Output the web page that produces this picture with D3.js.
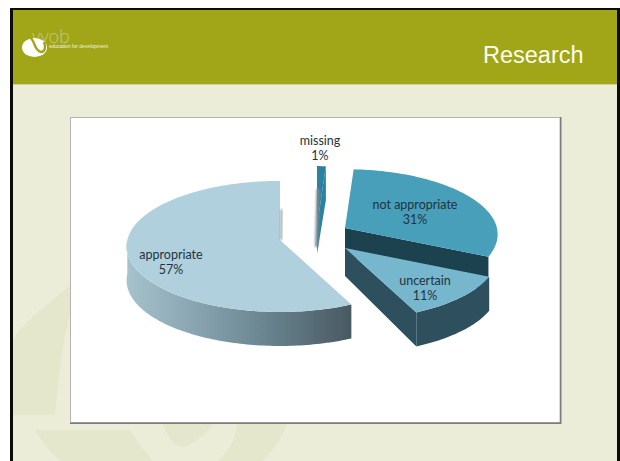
<!DOCTYPE html>
<html>
<head>
<meta charset="utf-8">
<title>Research</title>
<script src="https://cdn.jsdelivr.net/npm/d3@7/dist/d3.min.js"></script>
<style>
  html, body { margin: 0; padding: 0; background: #fff; }
  svg { display: block; }
</style>
</head>
<body>
<svg id="slide" width="620" height="461"></svg>
<script>
// Survey shares, in drawing order around the pie
const categories = ["appropriate", "missing", "not appropriate", "uncertain"];
const shares = [57, 1, 31, 11];

// Per-slice styling and placement (keyed by category)
const topColors = { "appropriate": "#b0d0de", "missing": "#2c82a0", "not appropriate": "#479fba", "uncertain": "#76b7ce" };
const pivots = {
  "appropriate": [280, 240],
  "missing": [317, 226],
  "not appropriate": [345, 228],
  "uncertain": [345, 248]
};
const reach = { "appropriate": 0.985, "missing": 1, "not appropriate": 0.98, "uncertain": 0.985 };
const labelAnchors = {
  "appropriate": [171, 259],
  "missing": [320, 145],
  "not appropriate": [415, 209],
  "uncertain": [425, 285]
};

// Tilted-disc projection
const radius = 155, tilt = 0.425, perspective = 0.1, depth = 34;
const TAU = Math.PI * 2;

const svg = d3.select("#slide");
const defs = svg.append("defs");

// Slide background
svg.append("rect").attr("x", 10).attr("y", 8).attr("width", 610).attr("height", 453).attr("fill", "#0c0c08");
svg.append("rect").attr("x", 13).attr("y", 10).attr("width", 604).attr("height", 451).attr("fill", "#ecedd9");

// Faint logo watermark behind the panel
const watermark = svg.append("g").attr("fill", "#e5e7cc");
watermark.append("path").attr("d", "M13 415 L13 340 C20 328 38 310 72 285 L72 310 C66 325 62 345 55 415 Z");
watermark.append("path").attr("d", "M35 430 L130 430 C137 442 145 452 153 461 L60 461 C50 452 42 442 35 430 Z");
watermark.append("path").attr("d", "M163 424 L213 424 C205 435 192 445 183 447 C174 446 167 437 163 424 Z");
watermark.append("path").attr("d", "M237 424 L287 424 C281 440 272 452 262 461 L218 461 C230 450 236 438 237 424 Z");

// Header band
svg.append("rect").attr("x", 13).attr("y", 10).attr("width", 604).attr("height", 74).attr("fill", "#a0a617");
svg.append("rect").attr("x", 13).attr("y", 84).attr("width", 604).attr("height", 1).attr("fill", "#cfd29a");
svg.append("text").attr("x", 483).attr("y", 63)
  .attr("font-family", "Liberation Sans, Arial, sans-serif").attr("font-size", 23.5)
  .attr("fill", "#fbfcf0").text("Research");

// Organisation mark
const logo = svg.append("g");
logo.append("text").attr("x", 32).attr("y", 43)
  .attr("font-family", "Open Sans, sans-serif").attr("font-weight", 300).attr("font-size", 18)
  .attr("fill", "#c5c97c").text("vyob");
logo.append("ellipse").attr("cx", 34.5).attr("cy", 47.5).attr("rx", 12.5).attr("ry", 9.5).attr("fill", "#fff");
logo.append("path").attr("d", "M29 37 C36 40 33 50 41 52 C45 52 46 47 44 42")
  .attr("fill", "none").attr("stroke", "#a0a617").attr("stroke-width", 2.4);
logo.append("text").attr("x", 49).attr("y", 47.5)
  .attr("font-family", "Liberation Sans, Arial, sans-serif").attr("font-size", 5)
  .attr("fill", "#f4f5df").text("education for development");

// Chart panel with its bevelled edge
svg.append("rect").attr("x", 70).attr("y", 117).attr("width", 491.5).attr("height", 307).attr("fill", "#7d7d7d");
svg.append("rect").attr("x", 70).attr("y", 117).attr("width", 490).attr("height", 305.5).attr("fill", "#b4b4b4");
svg.append("rect").attr("x", 71).attr("y", 118).attr("width", 488.5).attr("height", 304).attr("fill", "#ffffff");

// Pie layout: the first slice ends at the top of the disc
const pie = d3.pie().sort(null)
  .startAngle(-TAU * shares[0] / d3.sum(shares))
  .endAngle(TAU - TAU * shares[0] / d3.sum(shares));
const slices = pie(shares).map((d, i) => ({ ...d, name: categories[i] }));
const byName = Object.fromEntries(slices.map(d => [d.name, d]));

// Maps a polar position on the disc to the page, front of the disc appearing larger
const radial = d3.scaleLinear().domain([0, 1]).range([0, radius]);
function project(name, angle, r = 1) {
  const [px, py] = pivots[name];
  const [dx, dy] = d3.pointRadial(angle, radial(r) * reach[name]);
  const forward = dy / radius;
  const f = 1 / (1 - perspective * forward);
  return [px + dx * f, py + dy * tilt * f];
}
function rimAngles(a0, a1) {
  const n = Math.max(2, Math.ceil(Math.abs(a1 - a0) / 0.02));
  return d3.range(n + 1).map(i => a0 + (a1 - a0) * i / n);
}
const line = d3.line().curve(d3.curveLinear);

function topPath(d) {
  const pts = [project(d.name, 0, 0)]
    .concat(rimAngles(d.startAngle, d.endAngle).map(a => project(d.name, a)));
  return line(pts) + "Z";
}
// Outer wall across the part of the rim that faces the viewer
function wallPath(name, a0, a1) {
  const angs = rimAngles(a0, a1);
  const top = angs.map(a => project(name, a));
  const bot = angs.slice().reverse().map(a => {
    const p = project(name, a);
    return [p[0], p[1] + depth];
  });
  return line(top.concat(bot)) + "Z";
}
// Flat cut face running from the pivot out to the rim
function facePath(name, a) {
  const c = project(name, 0, 0), rim = project(name, a);
  return line([c, rim, [rim[0], rim[1] + depth], [c[0], c[1] + depth * 0.82]]) + "Z";
}

const wallGrad = defs.append("linearGradient").attr("id", "wallShade")
  .attr("gradientUnits", "userSpaceOnUse").attr("x1", 127).attr("x2", 349).attr("y1", 0).attr("y2", 0);
[[0, "#a6c2cc"], [0.3, "#88a5b1"], [0.62, "#6a8590"], [1, "#4a5a63"]]
  .forEach(([o, c]) => wallGrad.append("stop").attr("offset", o).attr("stop-color", c));

const soften = defs.append("filter").attr("id", "soften").attr("x", "-20%").attr("y", "-20%").attr("width", "140%").attr("height", "140%");
soften.append("feGaussianBlur").attr("stdDeviation", 0.6);
const edgeBlur = defs.append("filter").attr("id", "edgeBlur").attr("x", "-300%").attr("y", "-20%").attr("width", "700%").attr("height", "140%");
edgeBlur.append("feGaussianBlur").attr("stdDeviation", 0.9);

const chart = svg.append("g").attr("filter", "url(#soften)");

// not appropriate: dark band below the top, partly covered by the next slice
const na = byName["not appropriate"];
chart.append("path").attr("d", facePath(na.name, na.endAngle)).attr("fill", "#1b4250");
chart.append("path").attr("d", topPath(na)).attr("fill", topColors[na.name]);

// uncertain: the wall wraps round its left cut face
const un = byName["uncertain"];
chart.append("path").attr("d", facePath(un.name, un.endAngle)).attr("fill", "#2f505d");
chart.append("path").attr("d", wallPath(un.name, un.startAngle, un.endAngle)).attr("fill", "#2f505d");
chart.append("path").attr("d", topPath(un)).attr("fill", topColors[un.name]);

// appropriate: gradient wall along the front-left rim
const ap = byName["appropriate"];
const apStart = ap.startAngle, apEnd = -Math.PI / 2;
chart.append("path").attr("d", wallPath(ap.name, apStart, apEnd)).attr("fill", "url(#wallShade)");
chart.append("path").attr("d", topPath(ap)).attr("fill", topColors[ap.name]);
// shaded sliver where the cut at the top of the slice catches the light
const apC = project(ap.name, 0, 0), apR = project(ap.name, 0, 0.55);
svg.append("path").attr("d", line([[apC[0] + 1, apC[1]], [apR[0] + 1.5, apR[1] + 3]]))
  .attr("stroke", "#9aa5a9").attr("stroke-width", 2.2).attr("fill", "none").attr("filter", "url(#edgeBlur)");

// missing: a thin sliver whose cut face carries the colour further down
const mi = byName["missing"];
const miC = project(mi.name, 0, 0), miMid = project(mi.name, mi.startAngle, 0.6);
svg.append("path").attr("d", line([[miMid[0] + 1, miMid[1]], [miC[0] - 0.5, miC[1] + 21]]))
  .attr("stroke", "#7f8b90").attr("stroke-width", 3).attr("fill", "none").attr("filter", "url(#edgeBlur)");
chart.append("path").attr("d", facePath(mi.name, mi.endAngle)).attr("fill", topColors[mi.name]);
chart.append("path").attr("d", topPath(mi)).attr("fill", topColors[mi.name]);

// Category and percentage labels
const labels = svg.append("g")
  .attr("font-family", "Lato, Open Sans, sans-serif").attr("font-size", 12.5)
  .attr("fill", "#22333d").attr("text-anchor", "middle");
slices.forEach(d => {
  const [x, y] = labelAnchors[d.name];
  labels.append("text").attr("x", x).attr("y", y).text(d.name);
  labels.append("text").attr("x", x).attr("y", y + 15).text(d.value + "%");
});
</script>
</body>
</html>
